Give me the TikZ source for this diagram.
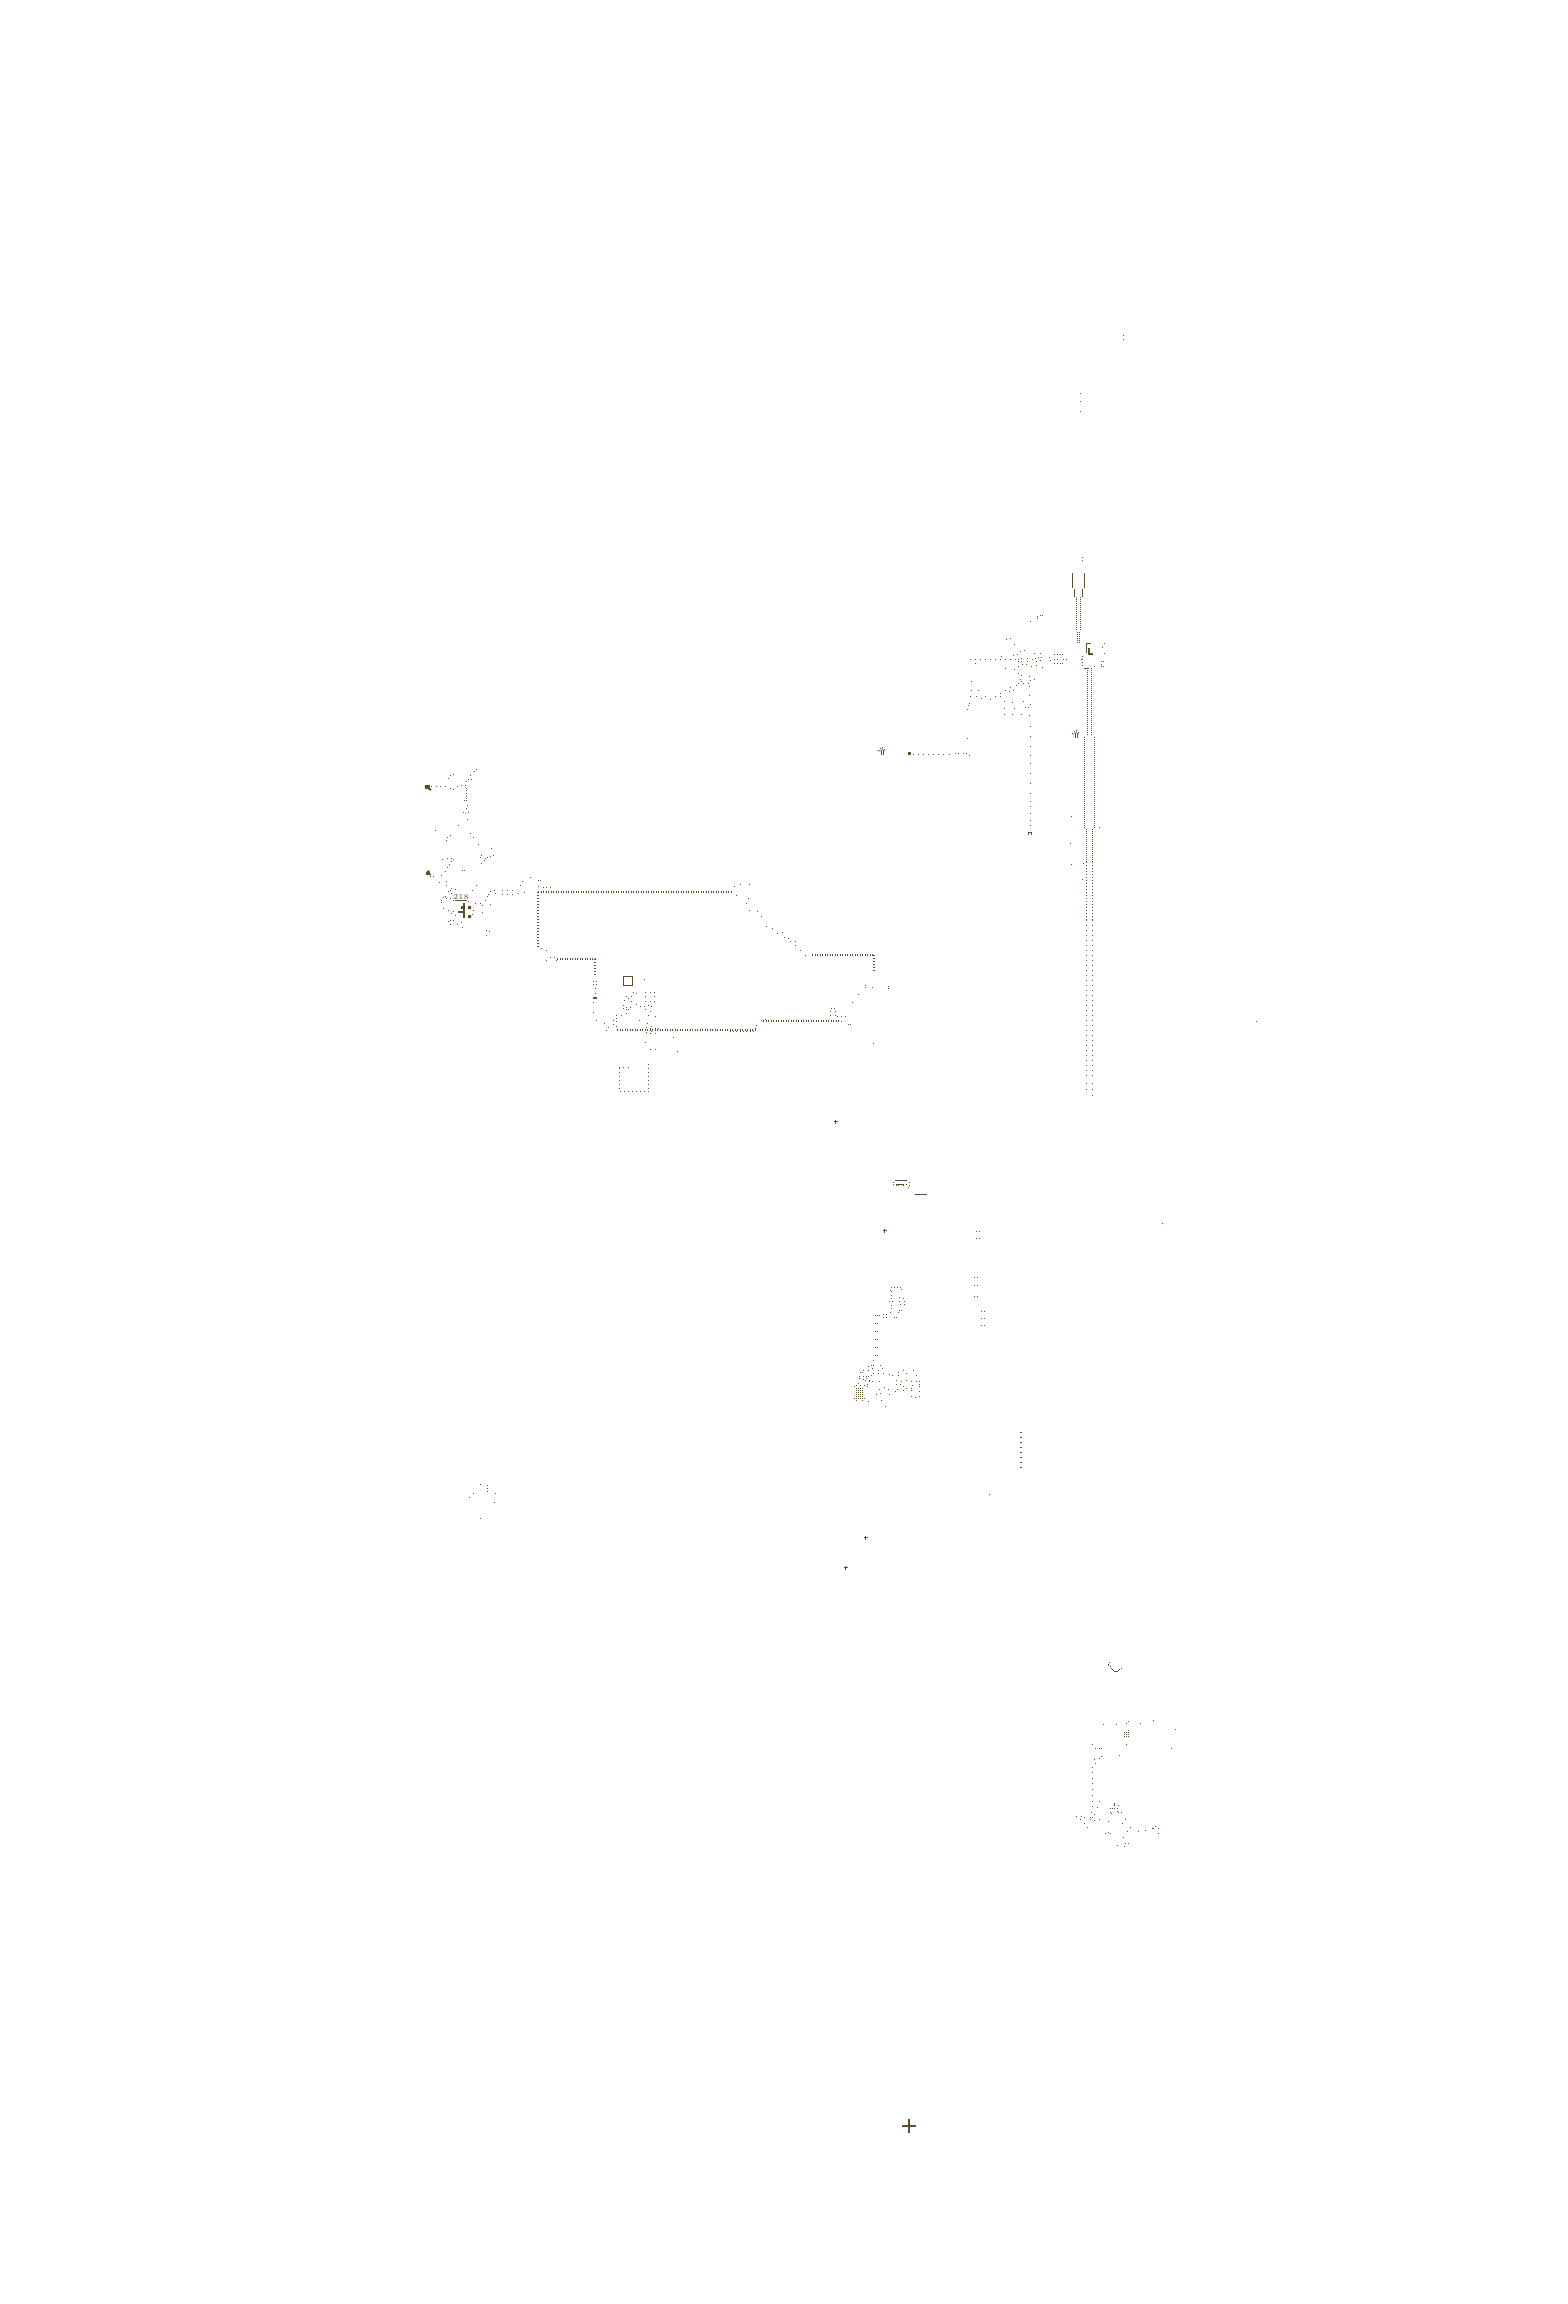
\documentclass[tikz,border=0pt]{standalone}
\usepackage{tikz}
\usetikzlibrary{positioning}
\definecolor{speck}{HTML}{5E4F2E}
% spots given in zoomed pixels: origin x, origin y, list
\newcommand{\spots}[3]{%
    \foreach \a/\b in {#3}
        \fill[speck] ({#1+int(\a/3)},{#2+int(\b/3)}) rectangle +(1,1);%
}
\newcommand{\upmark}[2]{%
    \draw[thinline] (#1-1,#2+8) -- (#1-1,#2+3);
    \draw[thinline] (#1+1,#2+8) -- (#1+1,#2+3);
    \draw[dotsA] (#1-4,#2+4) -- (#1,#2) -- (#1+4,#2+4);
    \draw[dotsA] (#1-2.5,#2+4) -- (#1,#2+2) -- (#1+2.5,#2+4);%
}
\newcommand{\tinyplus}[2]{%
    \draw[thinline] (#1-1.5,#2+.5) -- (#1+2.5,#2+.5);
    \draw[thinline] (#1+.5,#2-1.5) -- (#1+.5,#2+2.5);%
}
\begin{document}
\begin{tikzpicture}[
            x=.5pt,y=-.5pt,
            thinline/.style={draw=speck,line width=.5pt},
            thickline/.style={draw=speck,line width=1pt},
            dotsA/.style={thinline,dash pattern=on .5pt off 1pt},
            dotsB/.style={thinline,dash pattern=on .5pt off 2pt},
            dotsC/.style={thinline,dash pattern=on .5pt off .5pt},
            dotsD/.style={thinline,dash pattern=on .5pt off 1.5pt},
            loopH/.style={thickline,dash pattern=on .5pt off .75pt},
            loopV/.style={thickline,dash pattern=on .5pt off 1pt}
        ]
        \useasboundingbox (0,0) rectangle (1568,2304);

        % Draw loop %
        \draw[loopH] (538,892) -- (733,892);
        \draw[loopV] (538,892) -- (538,948);
        \draw[loopH] (557,959) -- (595,959);
        \draw[loopV] (595,959) -- (595,977);
        \draw[loopH] (617,1030) -- (757,1030);
        \draw[loopH] (763,1021) -- (840,1021);
        \draw[loopH] (812,955) -- (874,955);
        \draw[loopV] (874,955) -- (874,973);
        \draw[thinline] (623.5,976.5) rectangle (632.5,985.5);
        \draw[dotsD] (619.5,1067.5) -- (619.5,1091.5) -- (648.5,1091.5) -- (648.5,1062.5);
        \spots{400}{750}{658/952,670/952,685/952}

        % Draw star and label %
        \node[text=speck,font=\fontsize{3.8}{4}\selectfont,inner sep=0pt] (code218) at (461,897) {218};
        \draw[thinline] (455,900.5) -- (467,900.5);
        \draw[thickline] (464,903) -- (464,918);
        \draw[thickline] (458,912) -- (463,912);
        \fill[speck] (461,906) rectangle +(3,3) (468,906) rectangle +(3,3) (468,915) rectangle +(3,3);
        \fill[speck] (425,785) -- (430,785) -- (430,789) -- (425,789) -- cycle;
        \fill[speck] (426,872) -- (429,870) -- (431,875) -- (426,875) -- cycle;
        \draw[thickline] (425,786) -- (431,790);

        % Draw specks of the loop %
        \spots{400}{750}{95/108,108/108,122/108,136/108,152/115,160/118,172/110,185/107,197/105,200/95,205/88,215/88,212/75,222/65,230/58,145/85,150/75,160/73,
            198/115,198/122,198/130,198/138,198/146,198/152,193/152,203/167,198/175,190/188,205/188,197/190,203/208,175/226,106/240,150/257,143/263,138/270,211/250,220/262,236/283,275/295,243/315,280/315,270/320,240/322,255/325,262/322,252/332,245/340,
            128/327,142/325,155/325,160/328,153/335,148/342,143/352,135/365,125/375,186/361,192/361,92/378,100/378,118/397,140/395,140/405,230/405,218/420,
            150/420,165/418,155/415,145/425,155/430,135/440,130/442,125/450,125/458,140/445,150/445,160/450,175/452,190/452,205/455,225/460,240/460,247/465,247/487,255/450,262/440,265/432,272/425,283/420,285/430,272/462,
            130/475,145/482,160/485,155/490,165/495,160/510,150/510,145/515,152/523,172/523,185/518,187/532,220/480,218/492,258/540,268/543,258/555,
            308/420,308/432,322/420,322/432,338/420,338/432,355/430,372/428,360/405,367/395,390/382,415/392,420/392,415/410,430/412,440/412,452/412,
            425/595,438/600,440/630,450/622,463/622,470/630,580/695,590/695,580/703,590/703,585/715,585/730,580/757,580/787,590/810,613/820,618/840,625/832,640/812,640/822,650/797,650/805,650/815,650/830,665/795,680/790,665/797,
            733/688,735/727,750/727,763/727,735/740,763/740,735/755,763/755,750/755,733/768,745/765,755/768,735/778,750/785,767/798,745/795,700/727,708/730,695/740,680/740,672/752,685/745,695/755,708/762,720/770,670/765,670/775,680/772,690/772,680/778,685/778,718/812,743/820,755/828,
            740/832,740/848,750/835,750/850,765/835,765/850,755/845,775/835,820/862,737/877,752/898,765/898,832/905,
            990/845,1000/845,1010/845,1020/845,1030/845,1040/845,1050/845,1060/845,1095/808,1085/812,1070/825,1065/835,
            1003/410,1020/404,1048/404,1008/435,1045/445,1040/460,1048/480,1072/483,1083/498,1098/530,1117/535,1133/550,1147/547,1153/563,1165/565,1170/575,1185/575,1187/585,1200/602,1215/615,
            1397/707,1397/713,1417/713,1465/710,1465/715,1375/733,1357/757,1295/775,1303/775,1290/785,1305/785,1290/797,1305/797,1312/800,1325/800,1337/798,1325/815,1345/823,1352/823,1420/880}
        \fill[speck] (593,997) rectangle +(4,2);

        % Draw tube %
        \draw[thinline] (1072.5,573) -- (1072.5,588);
        \draw[thinline] (1084.5,573) -- (1084.5,588);
        \draw[thinline] (1074.5,589) -- (1074.5,597);
        \draw[thinline] (1082.5,589) -- (1082.5,597);
        \draw[dotsC] (1076.5,597) -- (1076.5,630);
        \draw[dotsC] (1080.5,597) -- (1080.5,630);
        \draw[dotsC] (1077.5,632) -- (1077.5,643);
        \draw[dotsC] (1079.5,632) -- (1079.5,643);
        \draw[dotsC] (1087.5,668) -- (1087.5,735);
        \draw[dotsC] (1091.5,668) -- (1091.5,735);
        \draw[dotsC] (1084.5,737) -- (1084.5,828);
        \draw[dotsC] (1094.5,737) -- (1094.5,828);
        \draw[dotsC] (1086.5,829) -- (1086.5,862);
        \draw[dotsC] (1092.5,829) -- (1092.5,862);
        \draw[dotsA] (1086.5,862) -- (1086.5,920);
        \draw[dotsA] (1092.5,862) -- (1092.5,920);
        \draw[dotsB] (1086.5,920) -- (1086.5,1076);
        \draw[dotsB] (1092.5,920) -- (1092.5,1076);
        \spots{1050}{800}{110/850,110/868,127/850,127/868,127/886,64/49,148/82,61/130,100/190,64/193,97/238,619/664}
        \spots{1050}{320}{220/45,220/57,91/220,91/244,91/274,97/712,97/720}

        % Draw head of tube %
        \draw[thickline] (1088.5,648) -- (1088.5,653.5) -- (1093,653.5);
        \draw[thinline] (1086,643) -- (1091,643);
        \draw[thinline] (1086.5,644) -- (1086.5,653);
        \draw[thinline] (1084,668.5) -- (1089,668.5);
        \upmark{1076}{730}
        \upmark{882}{747}
        \fill[speck] (908,752) rectangle +(3,3);
        \draw[thinline] (1028.5,835) -- (1028.5,832.5) -- (1031.5,832.5) -- (1031.5,835);

        % Draw specks of the head %
        \spots{850}{540}{562/228,570/226,578/226,562/236,541/243,468/298,480/295,492/313,510/333,522/331,490/345,502/343,553/340,571/340,453/350,
            360/358,375/358,390/358,405/358,420/358,435/358,450/358,465/358,480/358,495/358,376/370,505/358,505/363,515/355,515/363,533/355,533/365,547/358,555/355,565/352,575/352,597/352,600/360,558/365,570/360,505/378,517/373,530/373,543/378,558/375,577/382,465/385,492/388,
            505/400,513/405,510/418,538/408,553/418,505/430,515/425,520/430,540/420,535/430,500/435,480/442,490/452,478/455,465/452,452/460,452/468,435/470,420/478,405/470,393/475,380/468,385/452,364/452,364/424,360/470,358/490,355/497,352/508,
            538/440,538/465,463/483,487/488,520/483,540/493,525/503,535/503,463/505,492/505,463/522,487/522,515/522,538/525,
            540/560,540/588,540/618,540/645,540/670,540/700,540/730,540/760,540/785,540/800,540/820,540/840,540/857,352/595,
            190/642,205/642,220/642,235/642,250/642,265/642,280/642,297/642,315/640,325/640,340/640,350/640,358/645,
            612/343,621/343,630/343,638/343,612/370,621/370,630/370,638/370,612/357,622/357,640/357,650/357,
            698/350,698/358,698/366,698/375,733/378,762/310,758/322,762/340,753/365,753/372,753/380,760/365,760/380,693/357,664/828,661/910,748/862}

        % Draw middle group %
        \draw[thinline] (915,1194.5) -- (927,1194.5);
        \draw[thinline] (895,1180.5) -- (906,1180.5);
        \draw[thinline] (896,1184.5) -- (904,1184.5);
        \spots{840}{1160}{160/66,160/72,168/75,175/75,190/75,200/72,207/66,207/75,206/81,190/60,200/60,
            408/214,418/214,408/235,418/235,403/352,412/352,403/376,412/376,403/409,412/409,424/454,433/454,424/475,433/475,424/496,433/496,
            155/382,162/382,172/382,180/382,185/388,150/390,153/395,153/407,153/415,148/424,156/424,153/435,153/445,152/456,178/412,190/415,178/424,192/424,182/432,192/432,178/450,185/450,175/456,
            105/466,112/466,118/466,130/464,130/472,140/464,140/472,164/472,170/472,
            106/490,112/490,106/514,112/514,106/538,112/538,106/562,112/562,106/586,112/586,
            100/602,95/615,85/618,100/615,120/615,97/625,127/625,115/630,115/640,100/640,85/632,70/632,62/638,68/638,130/640,148/642,157/646,175/636,175/645,190/630,220/630,198/640,228/646,
            58/650,58/655,70/650,78/650,85/648,95/645,70/658,80/655,88/660,75/662,88/665,118/665,97/665,55/670,82/672,82/678,
            170/660,170/672,185/665,200/660,213/665,228/665,238/665,238/672,238/678,180/672,190/680,200/685,218/675,213/685,165/693,172/688,190/692,133/683,118/688,145/688,108/703,122/700,148/703,215/690,215/708,225/712,238/693,238/708,125/722,136/738,85/724,
            42/680,48/675,60/675,72/675,42/716,50/720,68/720,74/715}
        \foreach \c in {0,2,4,6}
            \foreach \r in {0,2,4,6,8,10}
                \fill[speck] ({856+\c},{1388+\r}) rectangle +(1,1);

        % Draw lower group %
        \spots{1060}{1650}{148/37,145/43,145/47,151/50,154/55,157/58,160/61,163/64,166/64,169/64,172/64,175/61,178/58,184/55,
            205/214,199/220,130/223,169/223,241/220,280/211,346/238,205/241,199/283,97/283,106/295,118/295,124/295,334/295,178/316,124/319,118/325,103/328,106/340,97/352,97/367,97/385,97/400,97/418,97/436,97/454,118/454,97/469,112/472,
            175/466,151/475,157/475,163/475,172/475,151/487,154/490,172/484,175/487,184/487,94/487,103/493,49/499,64/499,73/502,91/502,97/502,61/508,91/508,103/511,118/508,145/514,196/508,187/520,73/520,82/532,211/532,286/529,295/535,202/544,235/544,256/541,136/550,145/547,151/550,295/550,190/562,196/580,205/580,172/586,193/589}
        \draw[thinline] (1114.5,1803) -- (1114.5,1806);
        \draw[thinline] (1152,1828.5) -- (1154,1828.5);
        \foreach \c in {0,2,4}
            \foreach \r in {0,2,4}
                \fill[speck] ({1124+\c},{1732+\r}) rectangle +(1,1);

        % Draw loose marks %
        \spots{450}{1460}{91/73,112/76,112/85,112/94,136/100,70/100,58/112,133/127,91/175}
        \fill[speck] (1162,1223) rectangle +(1,1) (989,1494) rectangle +(1,1);
        \tinyplus{835}{1121}
        \tinyplus{884}{1230}
        \tinyplus{865}{1537}
        \tinyplus{845}{1567}
        \foreach \r in {32,37,...,67}
            \draw[thinline] (1020,{1400+\r+.5}) -- (1022,{1400+\r+.5});
        \draw[thickline] (902,2126) -- (916,2126);
        \draw[thickline] (909,2119) -- (909,2133);
\end{tikzpicture}
\end{document}
